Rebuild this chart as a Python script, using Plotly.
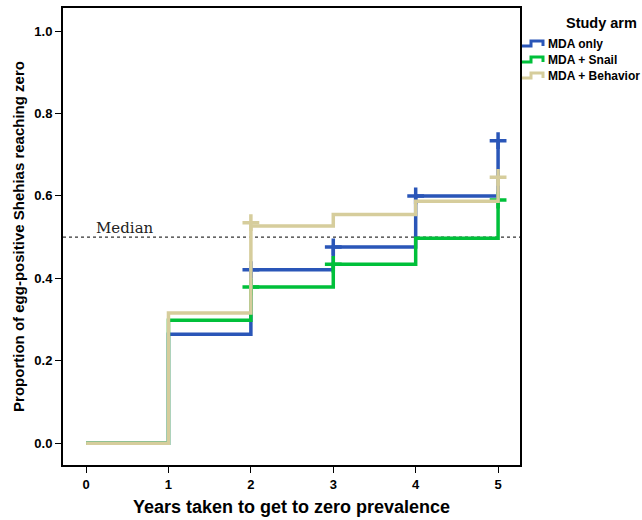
import plotly.graph_objects as go

years = [0, 1, 2, 3, 4, 5]
mda_only = [0.0, 0.264, 0.421, 0.476, 0.600, 0.734]
mda_snail = [0.0, 0.298, 0.379, 0.434, 0.497, 0.590]
mda_behavior = [0.0, 0.316, 0.527, 0.555, 0.587, 0.645]

cens_only_x = [2, 3, 4, 5]
cens_only_y = [0.421, 0.476, 0.600, 0.734]
cens_snail_x = [2, 3, 5]
cens_snail_y = [0.379, 0.434, 0.590]
cens_beh_x = [2, 5]
cens_beh_y = [0.535, 0.645]

median_value = 0.5

names = ["MDA only", "MDA + Snail", "MDA + Behavior"]
colors = ["#2a56b8", "#00c03a", "#d6cd9c"]

fig = go.Figure()
series = [(mda_only, cens_only_x, cens_only_y),
          (mda_snail, cens_snail_x, cens_snail_y),
          (mda_behavior, cens_beh_x, cens_beh_y)]
for (vals, cx, cy), nm, col in zip(series, names, colors):
    fig.add_trace(go.Scatter(x=years, y=vals, mode="lines", line_shape="hv",
                             line=dict(color=col, width=3.5), name=nm, showlegend=False))
    fig.add_trace(go.Scatter(x=cx, y=cy, mode="markers", showlegend=False,
                             marker=dict(symbol="cross-thin", size=12,
                                         line=dict(color=col, width=3.5))))

fig.add_shape(type="line", xref="paper", x0=0, x1=1, y0=median_value, y1=median_value,
              line=dict(color="#333333", width=1.2, dash="dot"), layer="below")
fig.add_annotation(x=0.1, y=0.522, text="Median", showarrow=False, xanchor="left",
                   font=dict(family="DejaVu Serif", size=15, color="#222222"))

# custom legend (step icons), positioned in pixel space converted to paper coords
L, T, W, H = 63, 8, 457, 457
def px(x):
    return (x - L) / W
def py(y):
    return (T + H - y) / H

fig.add_annotation(xref="paper", yref="paper", x=px(601), y=py(23), text="<b>Study arm</b>",
                   showarrow=False, xanchor="center", yanchor="middle",
                   font=dict(family="Liberation Sans", size=14.5, color="black"))
for i, (nm, col) in enumerate(zip(names, colors)):
    cy = 46 + 16 * i
    path = "M {a},{b} L {c},{b} L {c},{d} L {e},{d} L {e},{b}".format(
        a=px(522), b=py(cy), c=px(531), d=py(cy - 5), e=px(543))
    fig.add_shape(type="path", xref="paper", yref="paper", path=path,
                  line=dict(color=col, width=3))
    fig.add_annotation(xref="paper", yref="paper", x=px(546), y=py(cy - 2), text="<b>%s</b>" % nm,
                       showarrow=False, xanchor="left", yanchor="middle",
                       font=dict(family="Liberation Sans", size=12, color="black"))

axis_common = dict(showgrid=False, zeroline=False, showline=True, linecolor="black",
                   linewidth=2, mirror=True, ticks="outside", ticklen=6, tickcolor="black",
                   tickfont=dict(family="Liberation Sans", size=13, color="black", weight="bold"))
fig.update_xaxes(range=[-0.28, 5.266], tickvals=years, ticktext=[str(v) for v in years],
                 title=dict(text="<b>Years taken to get to zero prevalence</b>",
                            font=dict(family="Liberation Sans", size=18, color="black"),
                            standoff=10), **axis_common)
fig.update_yaxes(range=[-0.053, 1.056], tickvals=[0, 0.2, 0.4, 0.6, 0.8, 1.0],
                 ticktext=["0.0", "0.2", "0.4", "0.6", "0.8", "1.0"],
                 title=dict(text="<b>Proportion of egg-positive Shehias reaching zero</b>",
                            font=dict(family="Liberation Sans", size=15, color="black"),
                            standoff=6), **axis_common)

fig.update_layout(width=642, height=520,
                  margin=dict(l=63, r=122, t=8, b=55, autoexpand=False),
                  paper_bgcolor="white", plot_bgcolor="white", showlegend=False)
fig.write_html("out.html")
